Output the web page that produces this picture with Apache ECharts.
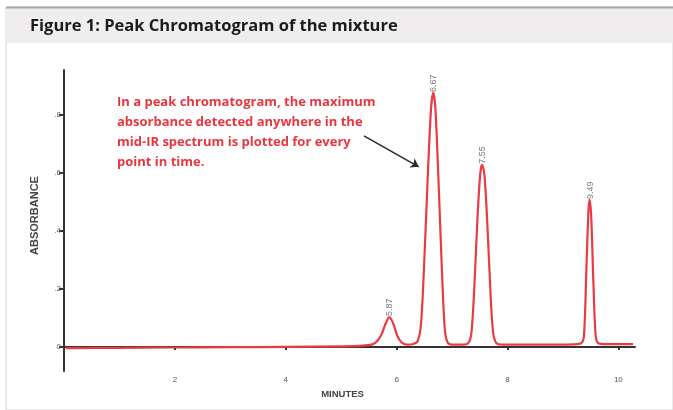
<!DOCTYPE html>
<html>
<head>
<meta charset="utf-8">
<script src="https://cdn.jsdelivr.net/npm/echarts@6/dist/echarts.min.js"></script>
<style>html,body{margin:0;padding:0;background:#fff;}#c{width:673px;height:410px;}</style>
</head>
<body>
<div id="c"></div>
<script>
// Chromatogram trace: [minutes, absorbance]
const traceTimes = [0.05,1,2,3,4,5,5.5,5.62,5.72,5.8,5.87,5.94,6.02,6.1,6.2,6.3,6.38,6.44,6.5,6.56,6.62,6.66,6.70,6.76,6.82,6.87,6.92,7.0,7.2,7.3,7.35,7.4,7.46,7.51,7.54,7.58,7.63,7.69,7.74,7.8,7.9,8.5,9.2,9.33,9.38,9.42,9.46,9.48,9.51,9.55,9.59,9.64,9.8,10.25];
const traceValues = [-0.004,-0.003,-0.002,-0.001,0.0,0.002,0.006,0.015,0.04,0.08,0.103,0.08,0.035,0.014,0.008,0.01,0.02,0.08,0.3,0.58,0.82,0.876,0.82,0.55,0.25,0.06,0.015,0.008,0.008,0.015,0.05,0.2,0.45,0.6,0.628,0.6,0.45,0.2,0.05,0.013,0.008,0.008,0.009,0.013,0.04,0.25,0.47,0.507,0.45,0.22,0.04,0.013,0.01,0.01];
const peakTimes = [5.87, 6.67, 7.55, 9.49];
const peakHeights = [0.103, 0.876, 0.628, 0.507];
const peakLabels = ['5.87', '6.67', '7.55', '9.49'];
const xTicks = [2, 4, 6, 8, 10];
const yTicks = [0, 0.2, 0.4, 0.6, 0.8];
const titleText = 'Figure 1: Peak Chromatogram of the mixture';
const noteLines = ['In a peak chromatogram, the maximum', 'absorbance detected anywhere in the', 'mid-IR spectrum is plotted for every', 'point in time.'];
const arrowFrom = [5.41, 0.728];
const arrowTo = [6.40, 0.621];

const chart = echarts.init(document.getElementById('c'), null, {renderer: 'canvas'});
const trace = traceTimes.map((t, i) => [t, traceValues[i]]);
const peaks = peakTimes.map((t, i) => ({value: [t, peakHeights[i]], label: {formatter: peakLabels[i]}}));

const axisTextStyle = {color: '#555', fontFamily: 'Liberation Sans', fontSize: 8};
chart.setOption({
  animation: false,
  backgroundColor: '#fff',
  graphic: [
    {type: 'rect', shape: {x: 6, y: 7, width: 667, height: 403}, style: {fill: 'none', stroke: '#d6d4d4', lineWidth: 1}, z: 0},
    {type: 'rect', shape: {x: 6, y: 7, width: 667, height: 36}, style: {fill: '#efeded'}, z: 0},
    {type: 'line', shape: {x1: 6, y1: 7.5, x2: 673, y2: 7.5}, style: {stroke: '#a9a5a5', lineWidth: 2}, z: 1},
    {type: 'text', left: 30, top: 18, style: {text: titleText, font: 'bold 16.5px "Open Sans"', fill: '#1b1b1b'}, z: 2},
    {type: 'text', left: 117, top: 92, style: {text: noteLines.join('\n'), font: 'bold 13px "Open Sans"', lineHeight: 20, fill: '#e8363f'}, z: 2}
  ],
  grid: {left: 64, right: 38, top: 70, bottom: 39},
  xAxis: {
    type: 'value', min: 0, max: 10.3, interval: 2,
    name: 'MINUTES', nameLocation: 'middle', nameGap: 16,
    nameTextStyle: {color: '#444', fontFamily: 'Liberation Sans', fontWeight: 'bold', fontSize: 9.5, padding: [0, 14, 0, 0]},
    axisLine: {lineStyle: {color: '#333', width: 2}},
    axisTick: {customValues: xTicks, length: 3, lineStyle: {color: '#333', width: 2}},
    axisLabel: {customValues: xTicks, margin: 5, ...axisTextStyle},
    splitLine: {show: false}
  },
  yAxis: {
    type: 'value', min: -0.083, max: 0.955,
    name: 'ABSORBANCE', nameLocation: 'middle', nameGap: 24,
    nameTextStyle: {color: '#444', fontFamily: 'Liberation Sans', fontWeight: 'bold', fontSize: 11, padding: [0, 0, 0, 10]},
    axisLine: {show: true, lineStyle: {color: '#333', width: 2}},
    axisTick: {show: true, customValues: yTicks, length: 5, lineStyle: {color: '#333', width: 2}},
    axisLabel: {customValues: yTicks, margin: 3, ...axisTextStyle, formatter: v => v === 0 ? '0' : v.toFixed(1).replace(/^0/, '')},
    splitLine: {show: false}
  },
  series: [
    {
      type: 'line', data: trace, smooth: 0.3, symbol: 'none',
      lineStyle: {color: '#ec3a44', width: 2.2, join: 'round', cap: 'round'},
      markLine: {
        silent: true, symbol: ['none', 'arrow'], symbolSize: 8,
        lineStyle: {color: '#2a2a2a', width: 1.5, type: 'solid'},
        label: {show: false},
        data: [[{coord: arrowFrom}, {coord: arrowTo}]]
      }
    },
    {
      type: 'scatter', data: peaks, symbolSize: 0, silent: true,
      label: {show: true, position: 'top', distance: 1, rotate: 90, align: 'left', verticalAlign: 'middle',
        color: '#555', fontFamily: 'Liberation Sans', fontSize: 9}
    }
  ]
});
</script>
</body>
</html>
